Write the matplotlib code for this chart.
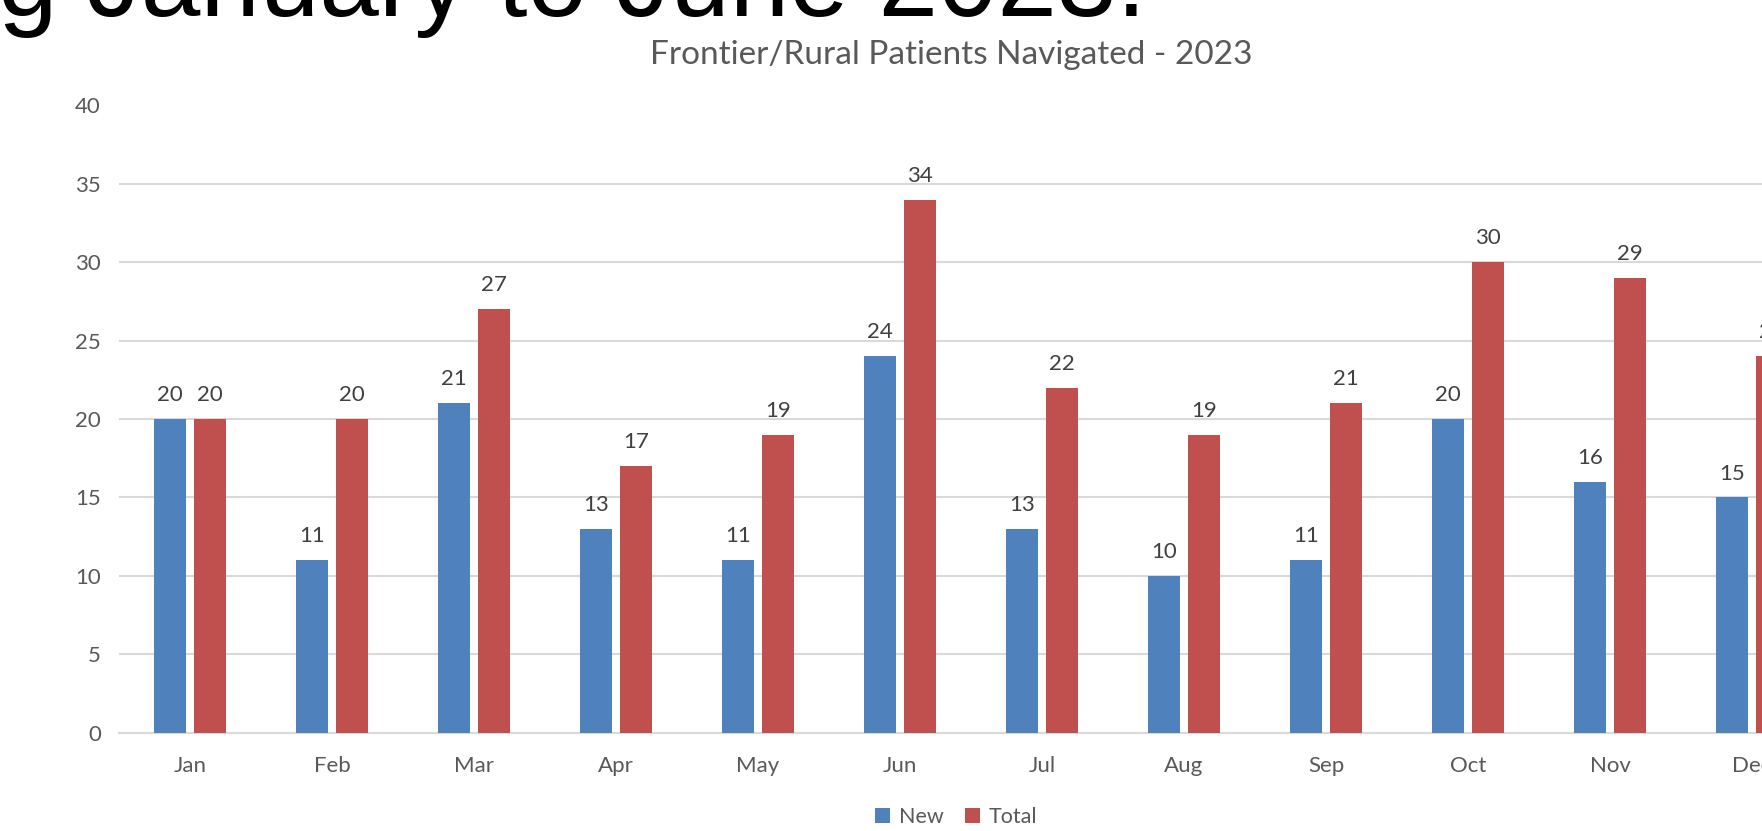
import matplotlib
matplotlib.use('Agg')
import matplotlib.pyplot as plt
import numpy as np

# ---------- Data ----------
months = ['Jan', 'Feb', 'Mar', 'Apr', 'May', 'Jun',
          'Jul', 'Aug', 'Sep', 'Oct', 'Nov', 'Dec']
new_patients = [20, 11, 21, 13, 11, 24, 13, 10, 11, 20, 16, 15]
total_patients = [20, 20, 27, 17, 19, 34, 22, 19, 21, 30, 29, 24]
y_ticks = [0, 5, 10, 15, 20, 25, 30, 35, 40]

BLUE = '#4F81BD'
RED = '#C0504D'
GRID = '#D9D9D9'
TEXT = '#595959'
LABEL = '#404040'

plt.rcParams['font.family'] = ['Lato', 'DejaVu Sans']

W, H = 1762, 831
fig = plt.figure(figsize=(W / 100, H / 100), dpi=100)

# axes runs off the right edge, as in the cropped screenshot
left, right = 119, 1823
bottom, top = 732.6, 105.5
ax = fig.add_axes([left / W, 1 - bottom / H, (right - left) / W, (bottom - top) / H])

x = np.arange(len(months))
bw = 0.225
off = 0.141
b_new = ax.bar(x - off, new_patients, width=bw, color=BLUE, label='New', zorder=3)
b_tot = ax.bar(x + off, total_patients, width=bw, color=RED, label='Total', zorder=3)

for bars in (b_new, b_tot):
    ax.bar_label(bars, padding=10, fontsize=16, color=LABEL)

ax.set_xlim(-0.5, len(months) - 0.5)
ax.set_ylim(0, 40)
ax.set_yticks(y_ticks)
ax.set_xticks(x)
ax.set_xticklabels(months)
ax.tick_params(axis='both', length=0, labelsize=16, labelcolor=TEXT)
ax.tick_params(axis='y', pad=13)
ax.tick_params(axis='x', pad=17)
ax.yaxis.grid(True, color=GRID, linewidth=1.5, zorder=0)
for s in ('top', 'right', 'left'):
    ax.spines[s].set_visible(False)
ax.spines['bottom'].set_color(GRID)
ax.spines['bottom'].set_linewidth(1.5)

fig.text(951 / W, 1 - 55 / H, 'Frontier/Rural Patients Navigated - 2023',
         ha='center', va='center', fontsize=24, color=TEXT)

# slide heading, cut off at the top of the screenshot
fig.text(1146 / W, 1 - 16 / H, 'g January to June 2023.', ha='right', va='baseline',
         fontsize=77, color='black', family='Liberation Sans')

fig.legend(handles=[b_new, b_tot], labels=['New', 'Total'], loc='center',
           bbox_to_anchor=(956 / W, 1 - 817 / H), ncol=2, frameon=False,
           fontsize=15.5, labelcolor=TEXT, handlelength=0.7, handleheight=0.7,
           handletextpad=0.4, columnspacing=1.0)

fig.savefig('out.png', dpi=100)
